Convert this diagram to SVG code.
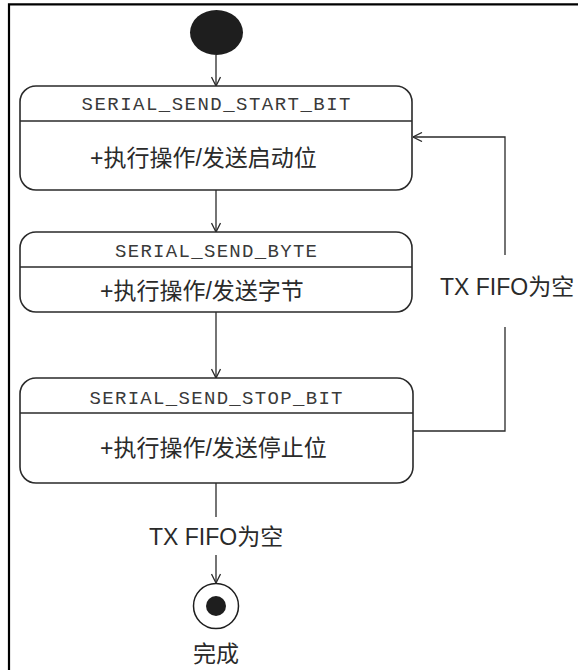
<svg xmlns="http://www.w3.org/2000/svg" width="578" height="670" viewBox="0 0 578 670">
  <style>
    .frame { fill: none; stroke: #000; stroke-width: 2.2; }
    .state { fill: #fff; stroke: #2a2a2a; stroke-width: 1.6; }
    .div { stroke: #2a2a2a; stroke-width: 1.4; }
    .edge { fill: none; stroke: #2a2a2a; stroke-width: 1.3; }
    .name { font-family: "Liberation Mono", "Courier New", monospace; font-size: 19px; fill: #3a3a3a; text-anchor: middle; }
    .act { font-family: "Liberation Sans", "Noto Sans CJK SC", sans-serif; font-size: 23px; fill: #2a2a2a; }
    .lbl { font-family: "Liberation Sans", "Noto Sans CJK SC", sans-serif; font-size: 23px; fill: #2a2a2a; }
  </style>
  <defs>
    <marker id="open" viewBox="0 0 10 10" refX="10" refY="5" markerWidth="10" markerHeight="10" markerUnits="userSpaceOnUse" orient="auto">
      <path d="M1,0.5 L10,5 L1,9.5" fill="none" stroke="#2a2a2a" stroke-width="1.3"/>
    </marker>
  </defs>

  <!-- outer frame (top and left edges) -->
  <path class="frame" d="M9,670 V4.3 H578"/>

  <!-- initial pseudo-state -->
  <g id="start">
    <ellipse cx="216.5" cy="32.5" rx="26.5" ry="22.5" fill="#1e1e1e"/>
  </g>

  <g id="sendStartBit">
    <rect class="state" x="20" y="86" width="392" height="104" rx="16" ry="16"/>
    <line class="div" x1="20" y1="121" x2="412" y2="121"/>
    <text class="name" x="216" y="110" textLength="269" lengthAdjust="spacing">SERIAL_SEND_START_BIT</text>
    <text class="act" x="90" y="166">+执行操作/发送启动位</text>
  </g>

  <g id="sendByte">
    <rect class="state" x="20" y="232" width="392" height="80" rx="16" ry="16"/>
    <line class="div" x1="20" y1="267" x2="412" y2="267"/>
    <text class="name" x="216" y="257" textLength="202" lengthAdjust="spacing">SERIAL_SEND_BYTE</text>
    <text class="act" x="100" y="299">+执行操作/发送字节</text>
  </g>

  <g id="sendStopBit">
    <rect class="state" x="20" y="378" width="393" height="105" rx="16" ry="16"/>
    <line class="div" x1="20" y1="413" x2="413" y2="413"/>
    <text class="name" x="216" y="404" textLength="253" lengthAdjust="spacing">SERIAL_SEND_STOP_BIT</text>
    <text class="act" x="100" y="456">+执行操作/发送停止位</text>
  </g>

  <!-- final pseudo-state -->
  <g id="done">
    <circle cx="216" cy="606" r="22.5" fill="#fff" stroke="#1e1e1e" stroke-width="1.5"/>
    <circle cx="216" cy="606" r="10" fill="#1e1e1e"/>
    <text class="lbl" x="216" y="662" text-anchor="middle" font-size="22">完成</text>
  </g>

  <g id="connectors">
    <line class="edge" x1="216" y1="55" x2="216" y2="86" marker-end="url(#open)"/>
    <line class="edge" x1="216" y1="190" x2="216" y2="232" marker-end="url(#open)"/>
    <line class="edge" x1="216" y1="312" x2="216" y2="378" marker-end="url(#open)"/>
    <!-- loop back from stop bit to start bit -->
    <path class="edge" d="M413,431 H505 V327"/>
    <path class="edge" d="M505,255 V137 H413" marker-end="url(#open)"/>
    <text class="lbl" x="440" y="295">TX FIFO为空</text>
    <!-- exit to final state -->
    <line class="edge" x1="216" y1="483" x2="216" y2="517"/>
    <line class="edge" x1="216" y1="555" x2="216" y2="583" marker-end="url(#open)"/>
    <text class="lbl" x="149" y="545">TX FIFO为空</text>
  </g>
</svg>
